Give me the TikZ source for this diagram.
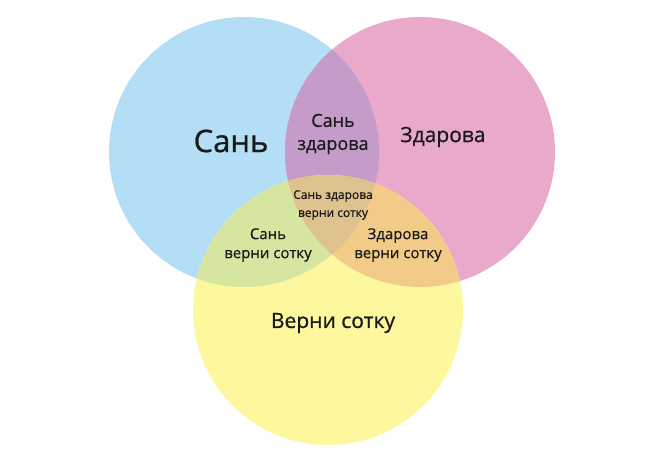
\documentclass[tikz,border=0pt]{standalone}
\usepackage{fontspec}
\setmainfont{Open Sans}
\newfontfamily\lblfont{Open Sans}[FakeBold=0.7]
\usetikzlibrary{positioning}

\definecolor{SanBlue}{HTML}{B3DEF5}
\definecolor{ZdPink}{HTML}{E9A9CB}
\definecolor{SotYellow}{HTML}{FDF89D}
\definecolor{SanZd}{HTML}{C49BC9}
\definecolor{SanSot}{HTML}{D6E6A0}
\definecolor{ZdSot}{HTML}{F3CB89}
\definecolor{AllThree}{HTML}{DFC38E}

\begin{document}
\begin{tikzpicture}[
        % Environment Config
        x=1bp, y=-1bp,
        Label/.style={% Style for the region texts
          text=black!90,
          align=center,
          inner sep=0pt
        },
        Big/.style={Label, font=\lblfont\fontsize{31bp}{34bp}\selectfont},
        Mid/.style={Label, font=\lblfont\fontsize{21bp}{22bp}\selectfont},
        Pair/.style={Label, font=\lblfont\fontsize{18bp}{23bp}\selectfont},
        Small/.style={Label, font=\lblfont\fontsize{15bp}{19bp}\selectfont},
        Tiny/.style={Label, font=\lblfont\fontsize{12bp}{18bp}\selectfont}
      ]
      \useasboundingbox (0,0) rectangle (665,462);
      \def\Rad{135bp}

      % Circle centres
      \coordinate (CSan) at (244,152);
      \coordinate (CZd) at (420,152);
      \coordinate (CSot) at (328,310);

      %===Single circles===
      \fill[SanBlue] (CSan) circle[radius=\Rad];
      \fill[ZdPink] (CZd) circle[radius=\Rad];
      \fill[SotYellow] (CSot) circle[radius=\Rad];

      %===Pairwise overlaps===
      \begin{scope}
        \clip (CSan) circle[radius=\Rad];
        \fill[SanZd] (CZd) circle[radius=\Rad];
        \fill[SanSot] (CSot) circle[radius=\Rad];
      \end{scope}
      \begin{scope}
        \clip (CZd) circle[radius=\Rad];
        \fill[ZdSot] (CSot) circle[radius=\Rad];
      \end{scope}

      %===Triple overlap===
      \begin{scope}
        \clip (CSan) circle[radius=\Rad];
        \clip (CZd) circle[radius=\Rad];
        \fill[AllThree] (CSot) circle[radius=\Rad];
      \end{scope}

      % Region texts
      \node[Big] (San) at (231,141) {Сань};
      \node[Mid] (Zd) at (443,137) {Здарова};
      \node[Pair] (SanZdT) at (333,134) {Сань\\здарова};
      \node[Tiny] (AllT) at (333,205) {Сань здарова\\верни сотку};
      \node[Small] (SanSotT) at (268,245) {Сань\\верни сотку};
      \node[Small] (ZdSotT) at (398,245) {Здарова\\верни сотку};
      \node[Mid] (Sot) at (333,323) {Верни сотку};

\end{tikzpicture}
\end{document}
